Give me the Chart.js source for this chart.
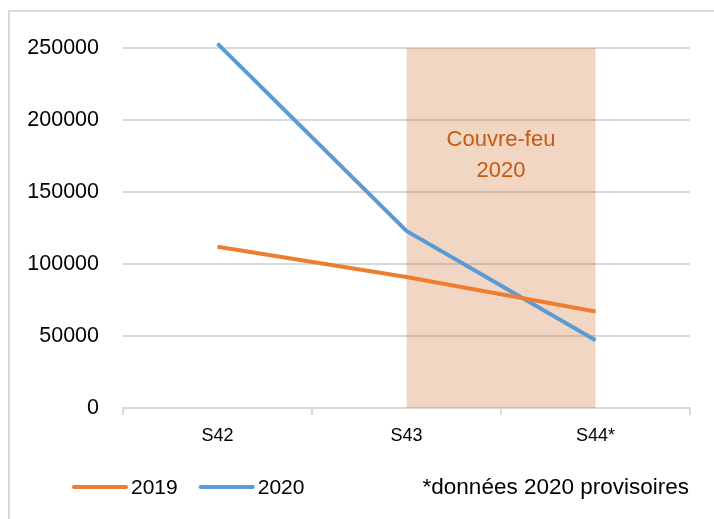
<!DOCTYPE html>
<html>
<head>
<meta charset="utf-8">
<script src="https://cdn.jsdelivr.net/npm/chart.js@4.4.0/dist/chart.umd.min.js"></script>
<style>
  body { margin: 0; background: #fff; }
</style>
</head>
<body>
<canvas id="line-chart" width="714" height="519"></canvas>
<script>
const weeks = ['S42', 'S43', 'S44*']
const values2019 = [112000, 91000, 67000]
const values2020 = [253000, 123000, 47000]
const yMax = 250000
const yStep = 50000
// curfew period, shaded between these two weeks
const curfewFrom = 'S43'
const curfewTo = 'S44*'
const curfewLabel = ['Couvre-feu', '2020']
const footnote = '*données 2020 provisoires'

const FONT = "'Liberation Sans', Arial, sans-serif"

const decorations = {
  id: 'decorations',
  beforeDraw(chart) {
    const ctx = chart.ctx
    ctx.save()
    ctx.fillStyle = '#fff'
    ctx.fillRect(0, 0, chart.width, chart.height)
    // outer frame (only top and left visible)
    ctx.strokeStyle = '#d9d9d9'
    ctx.lineWidth = 2
    ctx.beginPath()
    ctx.moveTo(9, chart.height)
    ctx.lineTo(9, 11)
    ctx.lineTo(chart.width, 11)
    ctx.stroke()
    ctx.restore()
  },
  beforeDatasetsDraw(chart) {
    const { ctx, scales: { x, y } } = chart
    const x0 = x.getPixelForValue(weeks.indexOf(curfewFrom))
    const x1 = x.getPixelForValue(weeks.indexOf(curfewTo))
    const yTop = y.getPixelForValue(yMax)
    const yBot = y.getPixelForValue(0)
    ctx.save()
    ctx.fillStyle = 'rgba(197, 90, 17, 0.25)'
    ctx.fillRect(x0, yTop, x1 - x0, yBot - yTop)
    ctx.fillStyle = '#c55a11'
    ctx.font = '22px ' + FONT
    ctx.textAlign = 'center'
    ctx.textBaseline = 'middle'
    const cx = (x0 + x1) / 2
    const cy = y.getPixelForValue(186000)
    curfewLabel.forEach((t, i) => ctx.fillText(t, cx, cy + i * 31))
    ctx.restore()
  },
  afterDraw(chart) {
    const ctx = chart.ctx
    const ly = 488
    ctx.save()
    ctx.font = '21px ' + FONT
    ctx.textBaseline = 'middle'
    ctx.lineCap = 'round'
    let lx = 74
    chart.data.datasets.forEach(ds => {
      ctx.strokeStyle = ds.borderColor
      ctx.lineWidth = 4
      ctx.beginPath()
      ctx.moveTo(lx, ly - 1)
      ctx.lineTo(lx + 52, ly - 1)
      ctx.stroke()
      ctx.fillStyle = '#000'
      ctx.fillText(ds.label, lx + 57, ly)
      lx += 57 + ctx.measureText(ds.label).width + 23
    })
    ctx.font = '22.5px ' + FONT
    ctx.textAlign = 'right'
    ctx.fillText(footnote, 689, ly)
    ctx.restore()
  }
}

const ctx = document.getElementById('line-chart').getContext('2d')
const myChart = new Chart(ctx, {
  type: 'line',
  data: {
    labels: weeks,
    datasets: [
      {
        label: '2019',
        data: values2019,
        borderColor: '#ed7d31',
        backgroundColor: '#ed7d31',
        borderWidth: 4,
        pointRadius: 0,
        clip: false,
      },
      {
        label: '2020',
        data: values2020,
        borderColor: '#5b9bd5',
        backgroundColor: '#5b9bd5',
        borderWidth: 4,
        pointRadius: 0,
        clip: false,
      },
    ],
  },
  options: {
    responsive: false,
    animation: false,
    layout: { padding: { left: 0, right: 24, top: 48, bottom: 71 } },
    plugins: {
      legend: { display: false },
      tooltip: { enabled: false },
    },
    scales: {
      x: {
        offset: true,
        grid: {
          offset: true,
          drawOnChartArea: false,
          tickLength: 7,
          color: '#d9d9d9',
          lineWidth: 2,
        },
        border: { color: '#d9d9d9', width: 2 },
        ticks: { color: '#000', font: { family: FONT, size: 18 }, padding: 10 },
        afterFit: s => { s.height = 40 },
      },
      y: {
        min: 0,
        max: yMax,
        ticks: {
          stepSize: yStep,
          color: '#000',
          font: { family: FONT, size: 21.5 },
          padding: 24,
          callback: v => String(v),
        },
        grid: { color: '#d9d9d9', lineWidth: 2, drawTicks: false },
        border: { display: false },
        afterFit: s => { s.width = 123 },
      },
    },
  },
  plugins: [decorations],
})
</script>
</body>
</html>
